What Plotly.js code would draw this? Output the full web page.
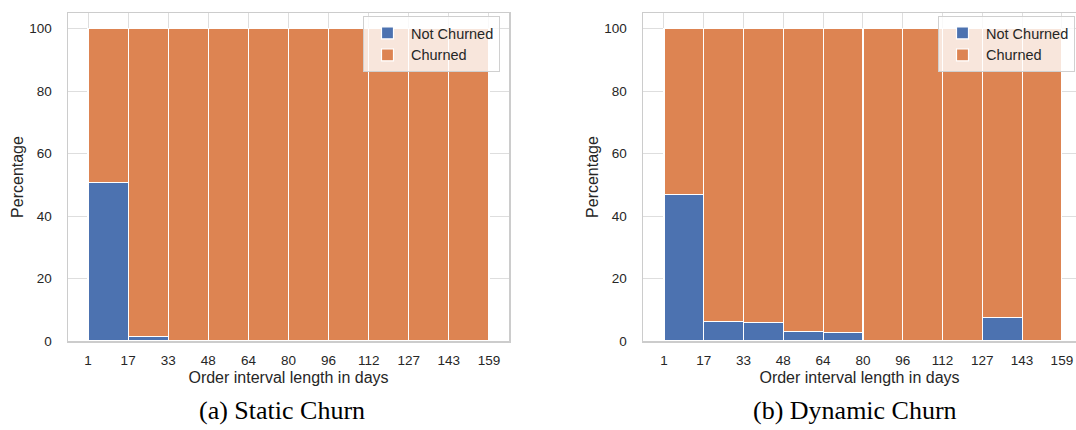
<!DOCTYPE html>
<html>
<head>
<meta charset="utf-8">
<script src="https://cdn.plot.ly/plotly-3.0.1.min.js"></script>
<style>html,body{margin:0;padding:0;background:#fff;}#chart{width:1076px;height:430px;}</style>
</head>
<body>
<div id="chart"></div>
<script>
// ---- data ----
const binEdges = [1, 16.8, 32.6, 48.4, 64.2, 80, 95.8, 111.6, 127.4, 143.2, 159];
const tickLabels = ['1', '17', '33', '48', '64', '80', '96', '112', '127', '143', '159'];
const staticNotChurned = [50.7, 1.5, 0, 0, 0, 0, 0, 0, 0, 0];
const staticChurned = [49.3, 98.5, 100, 100, 100, 100, 100, 100, 100, 100];
const dynamicNotChurned = [47.0, 6.3, 6.0, 3.1, 2.6, 0, 0, 0, 7.4, 0];
const dynamicChurned = [53.0, 93.7, 94.0, 96.9, 97.4, 100, 100, 100, 92.6, 100];
const seriesNames = ['Not Churned', 'Churned'];
const captions = ['(a) Static Churn', '(b) Dynamic Churn'];

// ---- derived bin geometry ----
const centers = binEdges.slice(0, -1).map((e, i) => (e + binEdges[i + 1]) / 2);
const widths = binEdges.slice(0, -1).map((e, i) => binEdges[i + 1] - e);

const BLUE = '#4c72b0', ORANGE = '#dd8452';
const FONT = 'Liberation Sans, Arial, sans-serif';
const TXT = '#262626';

function bar(y, name, color, xa, ya, legend) {
  return {
    type: 'bar', x: centers, y: y, width: widths, name: name,
    xaxis: xa, yaxis: ya, legend: legend,
    marker: {color: color, line: {color: '#ffffff', width: 1.2}},
    hoverinfo: 'x+y+name'
  };
}

const data = [
  bar(staticNotChurned, seriesNames[0], BLUE, 'x', 'y', 'legend'),
  bar(staticChurned, seriesNames[1], ORANGE, 'x', 'y', 'legend'),
  bar(dynamicNotChurned, seriesNames[0], BLUE, 'x2', 'y2', 'legend2'),
  bar(dynamicChurned, seriesNames[1], ORANGE, 'x2', 'y2', 'legend2')
];

const W = 1076, H = 430;
const yDom = [1 - 341 / H, 1 - 13 / H];

function xaxis(domain, range, mirror) {
  return {
    domain: domain, range: range, tickmode: 'array', tickvals: binEdges, ticktext: tickLabels,
    showgrid: true, gridcolor: '#dedede', gridwidth: 1, zeroline: false,
    showline: true, linecolor: '#cccccc', linewidth: 1.5, mirror: mirror,
    ticks: '', ticklabelstandoff: 6,
    tickfont: {family: FONT, size: 13.5, color: TXT},
    title: {text: 'Order interval length in days', font: {family: FONT, size: 16, color: TXT}, standoff: 5},
    fixedrange: true
  };
}
function yaxis(domain, anchor, mirror) {
  return {
    domain: domain, range: [0, 105], anchor: anchor, tickvals: [0, 20, 40, 60, 80, 100],
    showgrid: true, gridcolor: '#dedede', gridwidth: 1, zeroline: false,
    showline: true, linecolor: '#cccccc', linewidth: 1.5, mirror: mirror,
    ticks: '', ticklabelstandoff: 12,
    tickfont: {family: FONT, size: 13.5, color: TXT},
    title: {text: 'Percentage', font: {family: FONT, size: 16, color: TXT}, standoff: 1},
    fixedrange: true
  };
}

const legendStyle = {
  bgcolor: 'rgba(255,255,255,0.8)', bordercolor: '#d0d0d0', borderwidth: 1,
  font: {family: FONT, size: 14.5, color: TXT},
  xanchor: 'left', yanchor: 'top', y: 1 - 16 / H, traceorder: 'normal',
  itemwidth: 37, tracegroupgap: 0
};

const layout = {
  width: W, height: H,
  margin: {l: 0, r: 0, t: 0, b: 0},
  paper_bgcolor: '#ffffff', plot_bgcolor: '#ffffff',
  barmode: 'stack', bargap: 0,
  xaxis: Object.assign(xaxis([68 / W, 509 / W], [-6.9, 166.9], true), {anchor: 'y'}),
  yaxis: yaxis(yDom, 'x', true),
  xaxis2: Object.assign(xaxis([643 / W, 1], [-7.3, 164.6], true), {anchor: 'y2'}),
  yaxis2: yaxis(yDom, 'x2', false),
  legend: Object.assign({}, legendStyle, {x: 363 / W}),
  legend2: Object.assign({}, legendStyle, {x: 938 / W}),
  annotations: [
    {text: captions[0], xref: 'paper', yref: 'paper', x: 282 / W, y: 1 - 410 / H, xanchor: 'center', yanchor: 'middle',
     showarrow: false, font: {family: 'Liberation Serif, Times New Roman, serif', size: 26, color: '#000'}},
    {text: captions[1], xref: 'paper', yref: 'paper', x: 855 / W, y: 1 - 410 / H, xanchor: 'center', yanchor: 'middle',
     showarrow: false, font: {family: 'Liberation Serif, Times New Roman, serif', size: 26, color: '#000'}}
  ],
  showlegend: true
};

Plotly.newPlot('chart', data, layout, {displayModeBar: false, staticPlot: true});
</script>
</body>
</html>
